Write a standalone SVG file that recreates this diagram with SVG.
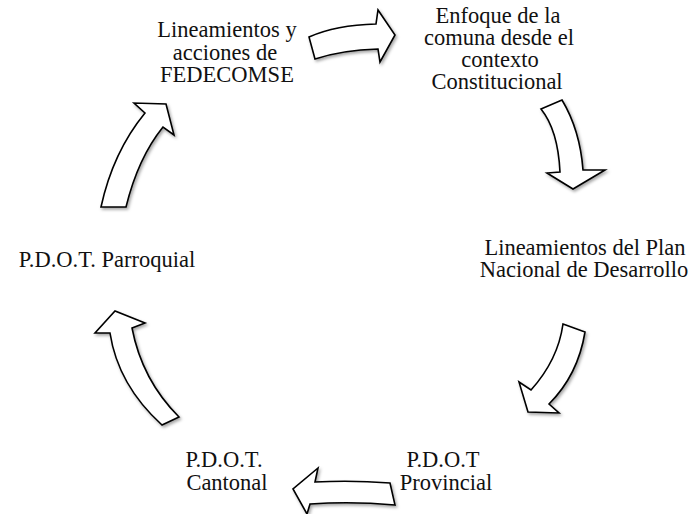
<svg xmlns="http://www.w3.org/2000/svg" width="696" height="514" viewBox="0 0 696 514">
<defs>
<filter id="sh" x="-20%" y="-20%" width="150%" height="150%">
<feDropShadow dx="1.5" dy="2" stdDeviation="1.5" flood-color="#000" flood-opacity="0.35"/>
</filter>
</defs>
<style>
.a{fill:#fff;stroke:#000;stroke-width:1.6;stroke-linejoin:miter;filter:url(#sh)}
</style>
<rect width="696" height="514" fill="#fff"/>
<g id="connectors">
<path class="a" d="M309,37 Q336,25 376,24 L378,10 L395,35 L380,62 L378,49 Q342,50 315,59 Z"/>
<path class="a" d="M541,109 L562,100 Q580,130 583,170 L605,170 L573,189 L547,173 L560,172 Q558,130 541,109 Z"/>
<path class="a" d="M563,324 L585,332 Q578,375 549,404 L559,413 L528,412 L519,382 L531,390 Q558,360 563,324 Z"/>
<path class="a" d="M390,483 Q352,480 315,482 L318,468 L293,489 L307,514 L310,504 Q352,501 395,505 Z"/>
<path class="a" d="M162,425 L179,417 Q142,380 132,328 L145,323 L115,311 L95,333 L110,333 Q118,385 162,425 Z"/>
<path class="a" d="M101,207 Q113,152 145,113 L134,103 L166,104 L174,135 L163,127 Q138,158 126,207 Z"/>
</g>
<g font-family="Liberation Serif, Times New Roman, serif" font-size="22.5" fill="#111" text-anchor="middle">
<g id="node-fedecomse">
<text x="227" y="37">Lineamientos y</text>
<text x="225" y="59.5">acciones de</text>
<text x="227" y="82">FEDECOMSE</text>
</g>
<g id="node-enfoque">
<text x="498" y="23">Enfoque de la</text>
<text x="499" y="45">comuna desde el</text>
<text x="500" y="67">contexto</text>
<text x="497" y="89">Constitucional</text>
</g>
<g id="node-plan">
<text x="585" y="255">Lineamientos del Plan</text>
<text x="584" y="277">Nacional de Desarrollo</text>
</g>
<g id="node-provincial">
<text x="443" y="467">P.D.O.T</text>
<text x="446" y="490">Provincial</text>
</g>
<g id="node-cantonal">
<text x="224" y="467">P.D.O.T.</text>
<text x="227" y="490">Cantonal</text>
</g>
<g id="node-parroquial">
<text x="107" y="267">P.D.O.T. Parroquial</text>
</g>
</g>
</svg>
